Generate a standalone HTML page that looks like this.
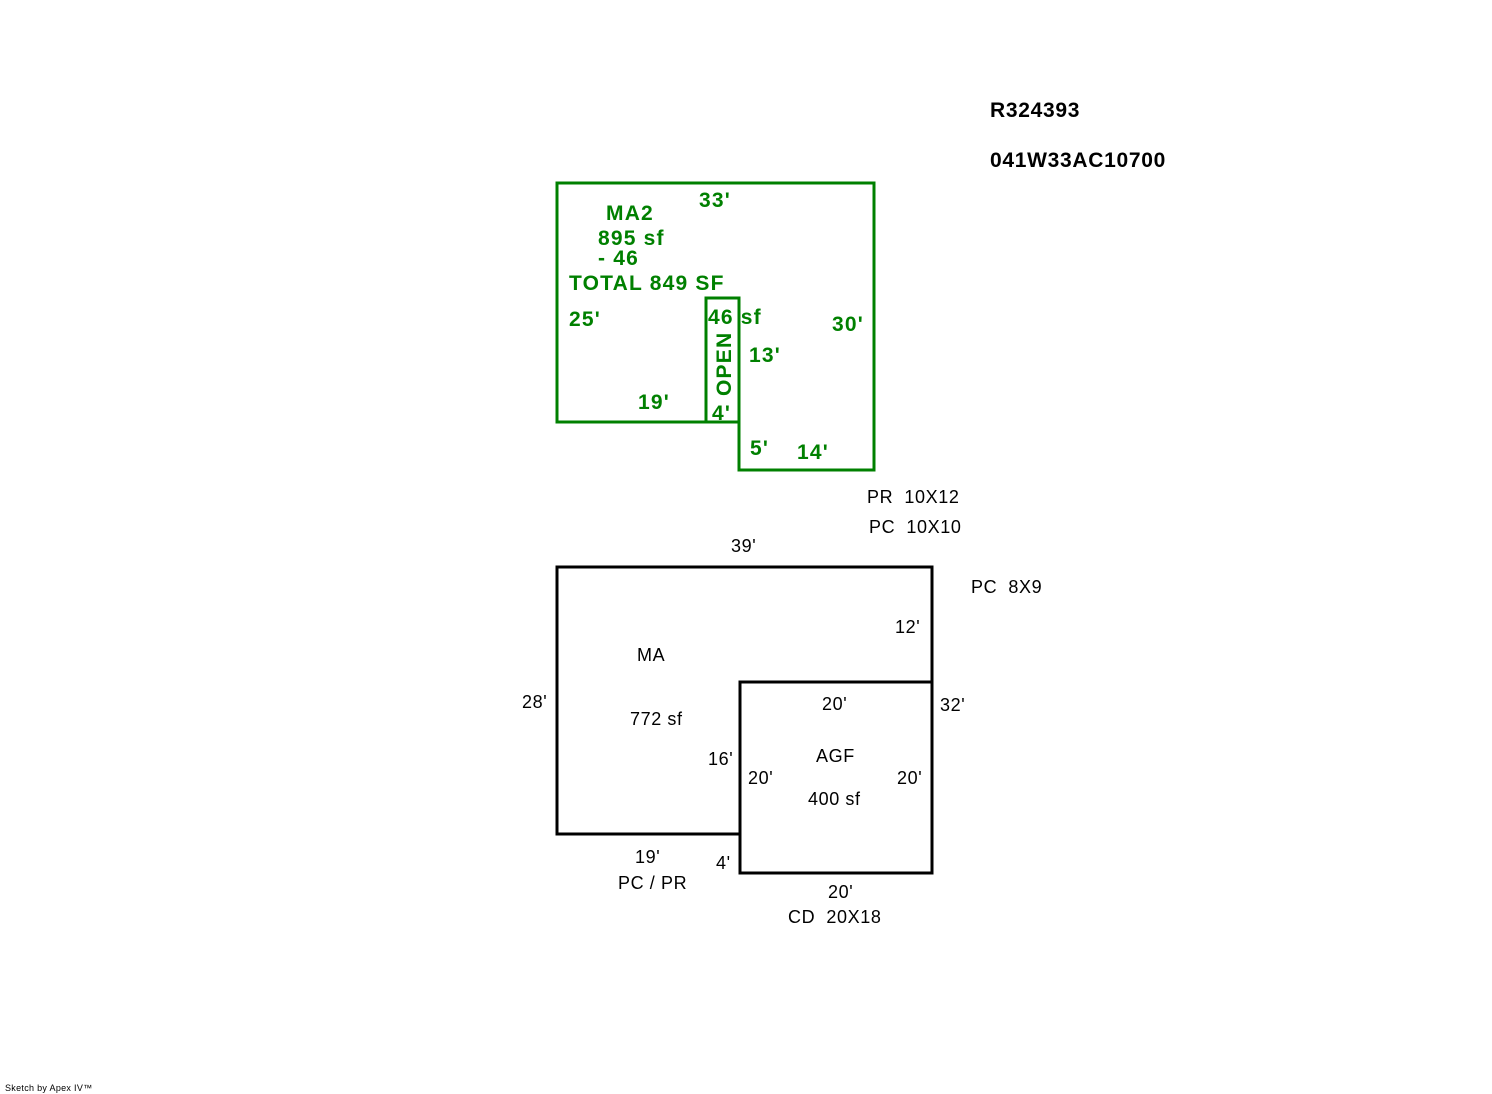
<!DOCTYPE html>
<html><head><style>body{margin:0;background:#fff}svg{display:block}text{white-space:pre}</style></head><body>
<svg width="1492" height="1094" xmlns="http://www.w3.org/2000/svg">
<g fill="none" stroke-width="3">
<path d="M557,183 H874 V470 H739 V422 H557 Z" stroke="#008000"/>
<rect x="706" y="298" width="33" height="124" stroke="#008000"/>
<path d="M557,567 H932 V682 H740 V834 H557 Z" stroke="#000"/>
<rect x="740" y="682" width="192" height="191" stroke="#000"/>
</g>
<g font-family="Liberation Sans, sans-serif" font-weight="bold" font-size="21" fill="#000" letter-spacing="0.7">
<text x="990" y="117">R324393</text>
<text x="990" y="167">041W33AC10700</text>
</g>
<g font-family="Liberation Sans, sans-serif" font-weight="bold" font-size="21" fill="#008000" letter-spacing="1.2">
<text x="606" y="220">MA2</text>
<text x="699" y="207">33'</text>
<text x="598" y="245">895 sf</text>
<text x="598" y="265">- 46</text>
<text x="569" y="290">TOTAL 849 SF</text>
<text x="569" y="326">25'</text>
<text x="708" y="324">46 sf</text>
<text x="832" y="331">30'</text>
<text x="749" y="362">13'</text>
<text x="638" y="409">19'</text>
<text x="712" y="420">4'</text>
<text x="750" y="455">5'</text>
<text x="797" y="459">14'</text>
<text transform="translate(731,396) rotate(-90)">OPEN</text>
</g>
<g font-family="Liberation Sans, sans-serif" font-size="18" fill="#000" letter-spacing="0.6">
<text x="867" y="503">PR  10X12</text>
<text x="869" y="533">PC  10X10</text>
<text x="731" y="552">39'</text>
<text x="971" y="593">PC  8X9</text>
<text x="895" y="633">12'</text>
<text x="637" y="661">MA</text>
<text x="522" y="708">28'</text>
<text x="822" y="710">20'</text>
<text x="940" y="711">32'</text>
<text x="630" y="725">772 sf</text>
<text x="816" y="762">AGF</text>
<text x="708" y="765">16'</text>
<text x="748" y="784">20'</text>
<text x="897" y="784">20'</text>
<text x="808" y="805">400 sf</text>
<text x="635" y="863">19'</text>
<text x="716" y="869">4'</text>
<text x="618" y="889">PC / PR</text>
<text x="828" y="898">20'</text>
<text x="788" y="923">CD  20X18</text>
</g>
<text x="5" y="1091" font-family="Liberation Sans, sans-serif" font-size="9" fill="#000" letter-spacing="0.3">Sketch by Apex IV™</text>
</svg>
</body></html>
